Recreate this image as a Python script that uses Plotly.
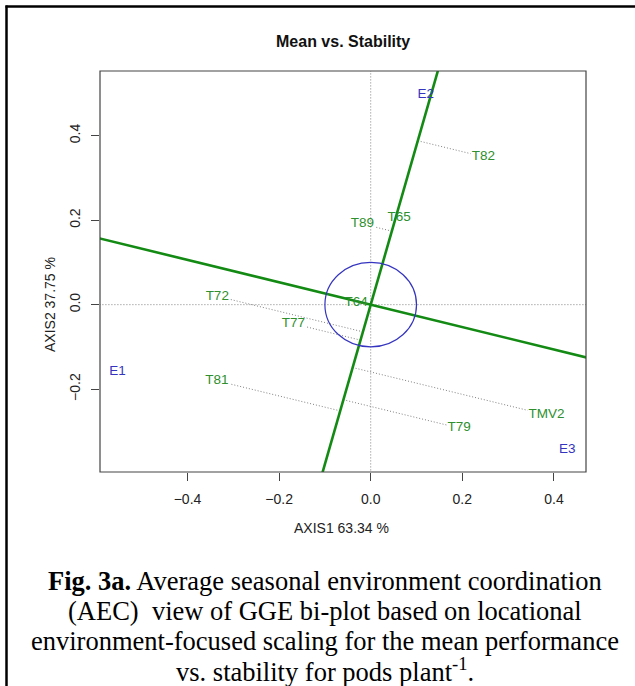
import plotly.graph_objects as go

# ---- GGE biplot scores -------------------------------------------------
genotypes = ["T82", "T65", "T89", "T64", "T72", "T77", "T81", "TMV2", "T79"]
gen_axis1 = [0.246, 0.062, -0.018, -0.032, -0.335, -0.169, -0.336, 0.384, 0.193]
gen_axis2 = [0.350, 0.207, 0.191, 0.004, 0.020, -0.045, -0.180, -0.261, -0.292]

environments = ["E1", "E2", "E3"]
env_axis1 = [-0.553, 0.120, 0.429]
env_axis2 = [-0.158, 0.498, -0.342]

# direction of the average-environment coordination (AEC) abscissa
aec_direction = [1.0, -0.265]
circle_radius = 0.1

x_range = [-0.591, 0.470]
y_range = [-0.396, 0.553]
x_ticks = [-0.4, -0.2, 0.0, 0.2, 0.4]
y_ticks = [-0.2, 0.0, 0.2, 0.4]

axis1_title = "AXIS1 63.34 %"
axis2_title = "AXIS2 37.75 %"
plot_title = "Mean vs. Stability"
caption_lines = [
    "<b>Fig. 3a.</b> Average seasonal environment coordination",
    "(AEC)  view of GGE bi-plot based on locational",
    "environment-focused scaling for the mean performance",
    "vs. stability for pods plant<sup>-1</sup>.",
]

# ---- page geometry (pixels) -------------------------------------------
W, H = 635, 686
L, R, T, B = 100, 586, 71, 472          # plot box edges
PW, PH = R - L, B - T


def px_x(px):
    return (px - L) / PW


def px_y(py):
    return (B - py) / PH


sx = PW / (x_range[1] - x_range[0])     # pixels per unit on axis 1
sy = PH / (y_range[1] - y_range[0])     # pixels per unit on axis 2

LINE_GREEN = "#138a13"
TEXT_GREEN = "#2d8f2d"
BLUE = "#3434c0"
GREY = "#808080"
AXIS_FONT = "Liberation Sans, Arial, sans-serif"
DOTS = "1px,2px"

fig = go.Figure()

# reference axes through the origin
big = 5
fig.add_trace(go.Scatter(x=[-big, big], y=[0, 0], mode="lines",
                         line=dict(color=GREY, width=1, dash=DOTS), hoverinfo="skip"))
fig.add_trace(go.Scatter(x=[0, 0], y=[-big, big], mode="lines",
                         line=dict(color=GREY, width=1, dash=DOTS), hoverinfo="skip"))

# projections of each genotype onto the AEC ordinate
ax, ay = aec_direction
ox, oy = -ay, ax                        # ordinate direction (perpendicular)
nrm = ox * ox + oy * oy


def text_width(label):
    widths = {"T": 8.2, "M": 11.2, "V": 9.0}
    return sum(widths.get(c, 7.5) for c in label)


for name, gx, gy in zip(genotypes, gen_axis1, gen_axis2):
    t = (gx * ox + gy * oy) / nrm
    px_, py_ = t * ox, t * oy
    # pixel-space vector from projection to the genotype
    dx, dy = (gx - px_) * sx, (gy - py_) * sy
    d = (dx * dx + dy * dy) ** 0.5
    gap = text_width(name) / 2 + 1.5
    if d <= gap:
        continue
    f = (d - gap) / d
    ex, ey = px_ + (gx - px_) * f, py_ + (gy - py_) * f
    fig.add_trace(go.Scatter(x=[px_, ex], y=[py_, ey], mode="lines",
                             line=dict(color=GREY, width=1, dash=DOTS),
                             hoverinfo="skip"))

# AEC abscissa and ordinate
fig.add_trace(go.Scatter(x=[-big * ax, big * ax], y=[-big * ay, big * ay], mode="lines",
                         line=dict(color=LINE_GREEN, width=2.6), hoverinfo="skip"))
fig.add_trace(go.Scatter(x=[-big * ox, big * ox], y=[-big * oy, big * oy], mode="lines",
                         line=dict(color=LINE_GREEN, width=2.6), hoverinfo="skip"))

# genotype and environment labels
fig.add_trace(go.Scatter(x=gen_axis1, y=gen_axis2, mode="text", text=genotypes,
                         textposition="middle center",
                         textfont=dict(color=TEXT_GREEN, size=13.5, family=AXIS_FONT)))
fig.add_trace(go.Scatter(x=env_axis1, y=env_axis2, mode="text", text=environments,
                         textposition="middle center",
                         textfont=dict(color=BLUE, size=13.5, family=AXIS_FONT)))

shapes = [
    dict(type="circle", xref="x", yref="y", x0=-circle_radius, x1=circle_radius,
         y0=-circle_radius, y1=circle_radius, line=dict(color=BLUE, width=1.2)),
    # plot frame
    dict(type="rect", xref="paper", yref="paper", x0=0, x1=1, y0=0, y1=1,
         line=dict(color="#444444", width=1.2)),
    # outer figure border (left and top)
    dict(type="line", xref="paper", yref="paper", x0=px_x(6.5), x1=px_x(6.5),
         y0=px_y(5.5), y1=px_y(H + 5), line=dict(color="black", width=2.5)),
    dict(type="line", xref="paper", yref="paper", x0=px_x(5.5), x1=px_x(W + 5),
         y0=px_y(6.5), y1=px_y(6.5), line=dict(color="black", width=2.5)),
]

annotations = [
    dict(text=f"<b>{plot_title}</b>", xref="paper", yref="paper",
         x=px_x(343), y=px_y(42), showarrow=False, xanchor="center", yanchor="middle",
         font=dict(family=AXIS_FONT, size=16, color="#111111")),
    dict(text=axis1_title, xref="paper", yref="paper", x=px_x(341), y=px_y(528),
         showarrow=False, xanchor="center", yanchor="middle",
         font=dict(family=AXIS_FONT, size=14, color="#222222")),
    dict(text=axis2_title, xref="paper", yref="paper", x=px_x(50), y=px_y(305),
         showarrow=False, xanchor="center", yanchor="middle", textangle=-90,
         font=dict(family=AXIS_FONT, size=14, color="#222222")),
]

caption_y = [581, 611, 641, 670]
for line, cy in zip(caption_lines, caption_y):
    annotations.append(dict(text=line, xref="paper", yref="paper", x=px_x(325),
                            y=px_y(cy), showarrow=False, xanchor="center",
                            yanchor="middle",
                            font=dict(family="Liberation Serif, Times New Roman, serif",
                                      size=26.5, color="black")))

fig.update_layout(
    width=W, height=H,
    margin=dict(l=L, r=W - R, t=T, b=H - B, pad=0),
    paper_bgcolor="white", plot_bgcolor="white",
    showlegend=False,
    shapes=shapes,
    annotations=annotations,
    xaxis=dict(range=x_range, tickvals=x_ticks, tickformat=".1f",
               showgrid=False, zeroline=False, showline=False,
               ticks="outside", ticklen=8, tickcolor="#444444", tickwidth=1,
               ticklabelstandoff=6,
               tickfont=dict(family=AXIS_FONT, size=14, color="#222222")),
    yaxis=dict(range=y_range, tickvals=y_ticks, tickformat=".1f",
               showgrid=False, zeroline=False, showline=False,
               ticks="outside", ticklen=8, tickcolor="#444444", tickwidth=1,
               tickangle=-90, ticklabelstandoff=5,
               tickfont=dict(family=AXIS_FONT, size=14, color="#222222")),
)

fig.write_html("out.html")
